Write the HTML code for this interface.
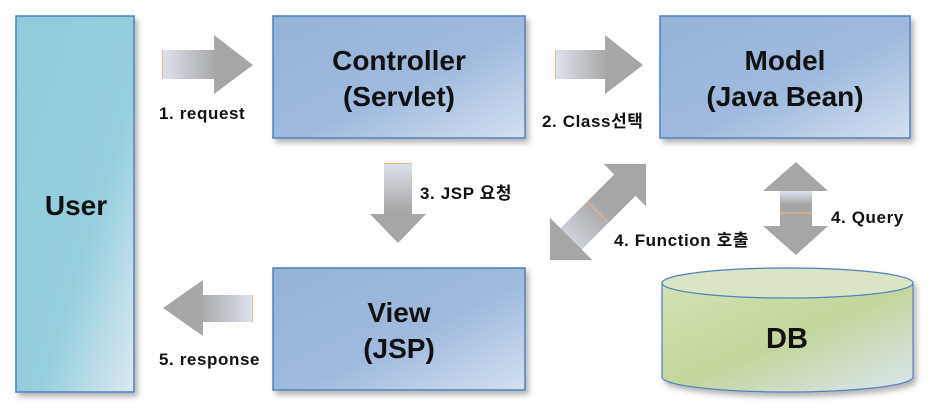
<!DOCTYPE html>
<html><head><meta charset="utf-8"><style>
html,body{margin:0;padding:0;background:#fff;}
svg{display:block;}
text{font-family:"Liberation Sans","Noto Sans CJK KR",sans-serif;font-weight:bold;fill:#111;}
.l{font-size:17px;letter-spacing:0.6px;}
.b{font-size:28px;}
</style></head><body>
<svg width="935" height="415" viewBox="0 0 935 415" xmlns="http://www.w3.org/2000/svg">
<defs>
<linearGradient id="ub" x1="0" y1="0" x2="1" y2="1"><stop offset="0" stop-color="#8ecbdb"/><stop offset="0.6" stop-color="#95cfdd"/><stop offset="1" stop-color="#dce9f3"/></linearGradient>
<linearGradient id="bb" x1="0" y1="0" x2="1" y2="1"><stop offset="0" stop-color="#95b3d7"/><stop offset="0.55" stop-color="#9fbade"/><stop offset="1" stop-color="#d3e0f0"/></linearGradient>
<linearGradient id="gb" x1="0" y1="0" x2="1" y2="1"><stop offset="0" stop-color="#d4e2b4"/><stop offset="0.5" stop-color="#c3d69b"/><stop offset="1" stop-color="#dbe5f1"/></linearGradient>
<linearGradient id="ah" x1="0" y1="0" x2="1" y2="0"><stop offset="0" stop-color="#dde3ee"/><stop offset="0.6" stop-color="#a6a6a6"/><stop offset="1" stop-color="#a6a6a6"/></linearGradient>
<linearGradient id="al" x1="1" y1="0" x2="0" y2="0"><stop offset="0" stop-color="#dde3ee"/><stop offset="0.6" stop-color="#a6a6a6"/><stop offset="1" stop-color="#a6a6a6"/></linearGradient>
<linearGradient id="av" x1="0" y1="0" x2="0" y2="1"><stop offset="0" stop-color="#dde3ee"/><stop offset="0.6" stop-color="#a6a6a6"/><stop offset="1" stop-color="#a6a6a6"/></linearGradient>
<filter id="sh" x="-10%" y="-10%" width="130%" height="130%"><feDropShadow dx="3" dy="4" stdDeviation="3" flood-color="#000" flood-opacity="0.3"/></filter>
</defs>
<rect x="16" y="16" width="118" height="376" fill="url(#ub)" stroke="#4f81bd" stroke-width="1.5" filter="url(#sh)"/>
<text x="76" y="215" class="b" text-anchor="middle">User</text>
<rect x="273" y="16" width="252" height="122" fill="url(#bb)" stroke="#4f81bd" stroke-width="1.5" filter="url(#sh)"/>
<text x="399" y="70" class="b" text-anchor="middle">Controller</text>
<text x="399" y="106" class="b" text-anchor="middle">(Servlet)</text>
<rect x="660" y="16" width="250" height="122" fill="url(#bb)" stroke="#4f81bd" stroke-width="1.5" filter="url(#sh)"/>
<text x="785" y="70" class="b" text-anchor="middle">Model</text>
<text x="785" y="106" class="b" text-anchor="middle">(Java Bean)</text>
<rect x="273" y="268" width="252" height="122" fill="url(#bb)" stroke="#4f81bd" stroke-width="1.5" filter="url(#sh)"/>
<text x="399" y="322" class="b" text-anchor="middle">View</text>
<text x="399" y="358" class="b" text-anchor="middle">(JSP)</text>
<g filter="url(#sh)">
<path d="M662,283 L662,377 A125.5,15 0 0 0 913,377 L913,283 Z" fill="url(#gb)" stroke="#4f81bd" stroke-width="1.2"/>
<ellipse cx="787.5" cy="283" rx="125.5" ry="15" fill="#d9e5c4" stroke="#4f81bd" stroke-width="1.2"/>
</g>
<text x="787" y="348" font-size="29" text-anchor="middle">DB</text>
<polygon points="162,50 214,50 214,35 253,65 214,94 214,79 162,79" fill="url(#ah)"/>
<line x1="162.5" y1="50" x2="162.5" y2="79" stroke="#f7b37c"/>
<polygon points="555,50 605,50 605,35 643,65 605,94 605,79 555,79" fill="url(#ah)"/>
<line x1="555.5" y1="50" x2="555.5" y2="79" stroke="#f7b37c"/>
<polygon points="384,163 412,163 412,214 426,214 398,243 370,214 384,214" fill="url(#av)"/>
<line x1="384" y1="163.5" x2="412" y2="163.5" stroke="#f7b37c"/>
<polygon points="253,295 203,295 203,280 163,308 203,336 203,322 253,322" fill="url(#al)"/>
<line x1="252.5" y1="295" x2="252.5" y2="322" stroke="#f7b37c"/>
<g transform="translate(598,212) rotate(-45)">
<polygon points="-68,0 -38,-30 -38,-15 38,-15 38,-30 68,0 38,30 38,15 -38,15 -38,30" fill="#a6a6a6"/>
<rect x="-38" y="-15" width="76" height="30" fill="url(#ah)" opacity="0.7"/>
<line x1="0" y1="-15" x2="0" y2="15" stroke="#f7b37c"/>
</g>
<polygon points="796,162 828,191 812,191 812,226 828,226 796,255 763,226 780,226 780,191 763,191" fill="#a6a6a6"/>
<rect x="780" y="191" width="32" height="22" fill="url(#av)"/>
<line x1="780" y1="213" x2="812" y2="213" stroke="#f7b37c"/>
<text x="159" y="119" class="l">1. request</text>
<text x="542" y="127" class="l">2. Class선택</text>
<text x="420" y="199" class="l">3. JSP 요청</text>
<text x="614" y="246" class="l">4. Function 호출</text>
<text x="831" y="223" class="l">4. Query</text>
<text x="159" y="365" class="l">5. response</text>
</svg>
</body></html>
